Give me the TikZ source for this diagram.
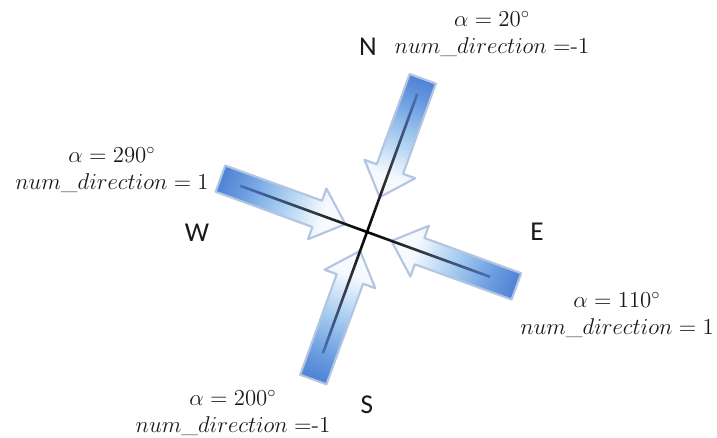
\RequirePackage{fix-cm}
\documentclass[tikz,border=0pt]{standalone}
\usepackage{fontspec}
\newfontfamily\dirfont{Carlito}
\definecolor{tailblue}{RGB}{78,130,212}
\definecolor{blue2}{RGB}{112,160,226}
\definecolor{midblue}{RGB}{168,205,241}
\definecolor{headwhite}{RGB}{246,250,254}
\definecolor{outl}{RGB}{180,197,225}
\definecolor{lineblue}{RGB}{70,112,185}
\pgfdeclarehorizontalshading{windshade}{100bp}{color(0bp)=(tailblue); color(25bp)=(tailblue); color(36bp)=(blue2); color(50bp)=(midblue); color(66bp)=(headwhite); color(100bp)=(headwhite)}
\pgfdeclarehorizontalshading{lineshade}{100bp}{color(0bp)=(lineblue); color(25bp)=(lineblue); color(55bp)=(black!80); color(75bp)=(black); color(100bp)=(black)}
\newcommand\windarrow[4]{%
  \begin{scope}[transform canvas={shift={(367,232)},rotate=#1}]
    \path[shade, shading=windshade, draw=outl, line width=1.2pt, line join=round]
      (-#2,-14) -- ({-#3-30},-14) -- ({-#3-30},-27) -- (-#3,0) -- ({-#3-30},27) -- ({-#3-30},14) -- (-#2,14) -- cycle;
    \path[shade, shading=lineshade] (-#4,-1.3) rectangle (1.3,1.3);
  \end{scope}}
\tikzset{
  lbl/.style={align=center, font=\fontsize{13}{15.5}\selectfont, text=black!90, inner sep=0pt},
  dirl/.style={font=\dirfont\fontsize{15.5}{18}\selectfont, text=black!90, inner sep=0pt}
}
\begin{document}
\begin{tikzpicture}[x=0.02cm, y=-0.02cm]
  \useasboundingbox[fill=white] (0,0) rectangle (717,438);
  \coordinate (C) at (367,232);
  \windarrow{-110}{163}{37}{147}
  \windarrow{-20}{156}{23}{135}
  \windarrow{160}{159}{26}{131}
  \windarrow{70}{157}{20}{129}
  \node[dirl] (dN) at (368,47) {N};
  \node[dirl] (dW) at (197,233) {W};
  \node[dirl] (dE) at (537,232) {E};
  \node[dirl] (dS) at (367,405) {S};
  \node[lbl] (lN) at (492,34) {$\alpha = 20^\circ$\\$num\_direction =$-1};
  \node[lbl] (lW) at (112,170) {$\alpha = 290^\circ$\\$num\_direction = 1$};
  \node[lbl] (lE) at (617,315) {$\alpha = 110^\circ$\\$num\_direction = 1$};
  \node[lbl] (lS) at (233,413) {$\alpha = 200^\circ$\\$num\_direction =$-1};
\end{tikzpicture}
\end{document}
